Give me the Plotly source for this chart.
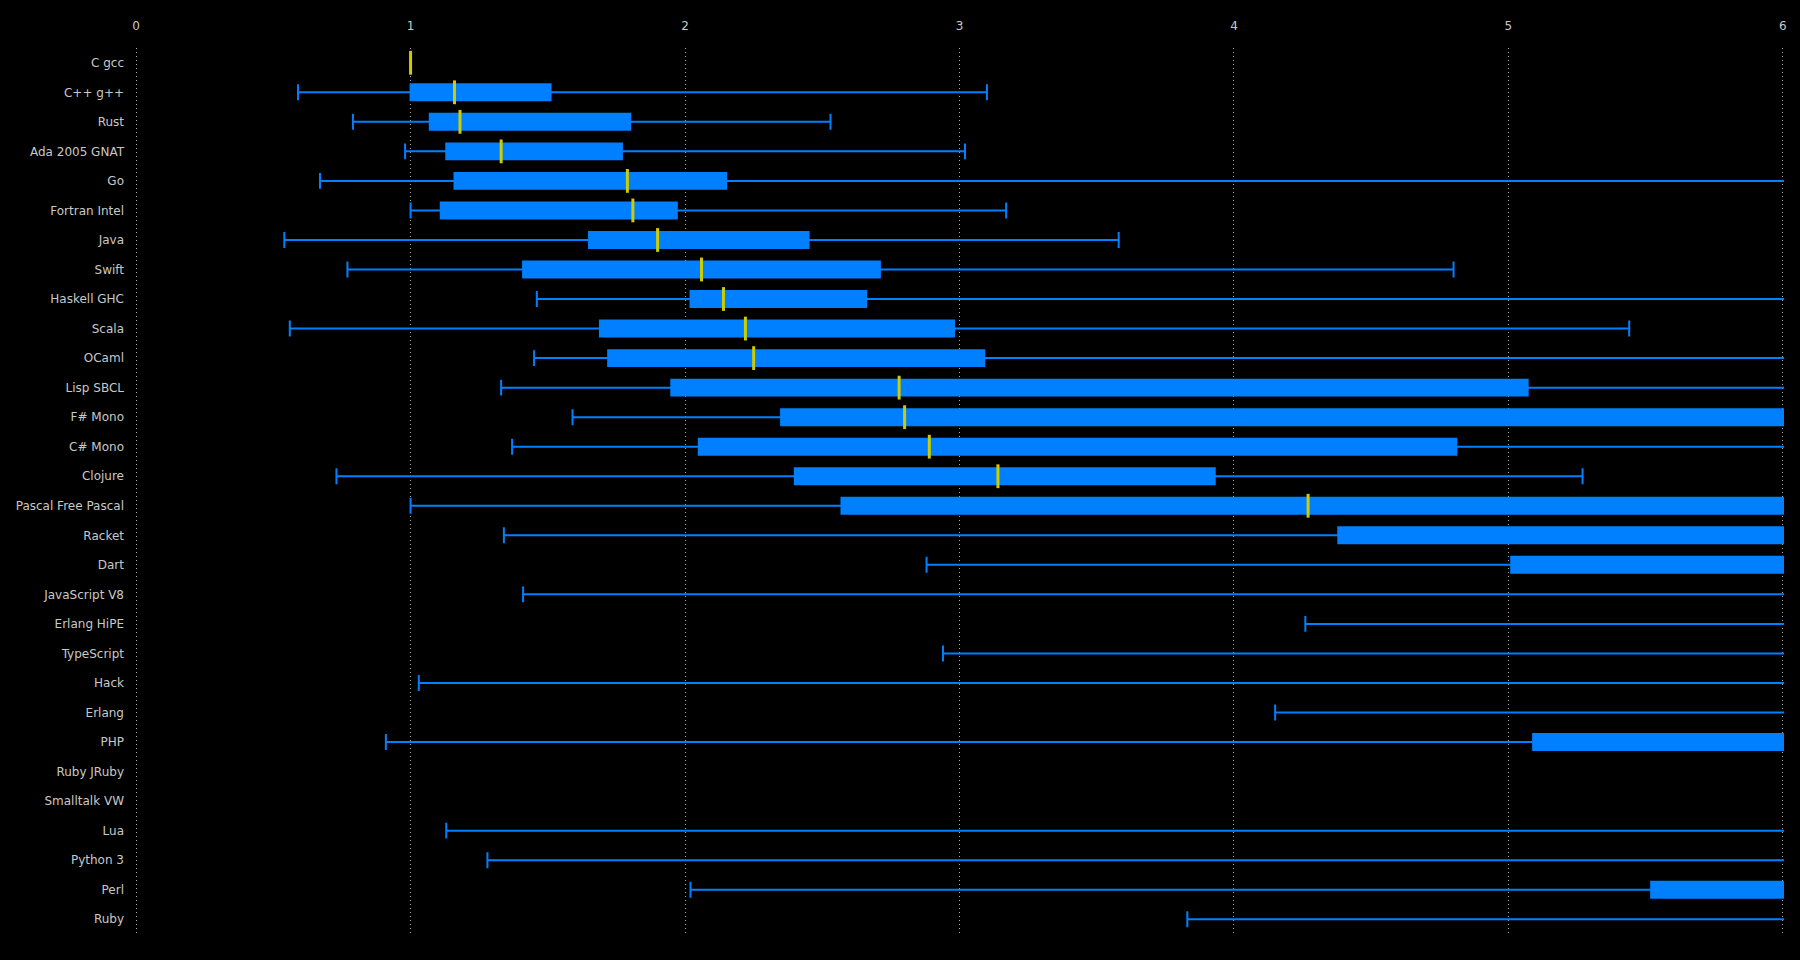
import plotly.graph_objects as go

languages = ["C gcc", "C++ g++", "Rust", "Ada 2005 GNAT", "Go", "Fortran Intel", "Java", "Swift",
             "Haskell GHC", "Scala", "OCaml", "Lisp SBCL", "F# Mono", "C# Mono", "Clojure",
             "Pascal Free Pascal", "Racket", "Dart", "JavaScript V8", "Erlang HiPE", "TypeScript",
             "Hack", "Erlang", "PHP", "Ruby JRuby", "Smalltalk VW", "Lua", "Python 3", "Perl", "Ruby"]

lower_fence = [1.0, 0.59, 0.79, 0.98, 0.67, 1.0, 0.54, 0.77, 1.46, 0.56, 1.45, 1.33, 1.59, 1.37, 0.73,
               1.0, 1.34, 2.88, 1.41, 4.26, 2.94, 1.03, 4.15, 0.91, 6.5, 7.0, 1.13, 1.28, 2.02, 3.83]
q1 = [1.0, 1.0, 1.07, 1.13, 1.16, 1.11, 1.65, 1.41, 2.02, 1.69, 1.72, 1.95, 2.35, 2.05, 2.40,
      2.57, 4.38, 5.01, 7.0, 8.0, 7.5, 8.0, 9.0, 5.09, 10.0, 12.0, 9.0, 10.0, 5.52, 12.0]
median = [1.0, 1.16, 1.18, 1.33, 1.79, 1.81, 1.90, 2.06, 2.14, 2.22, 2.25, 2.78, 2.80, 2.89, 3.14,
          4.27, 7.0, 8.0, 10.0, 11.0, 12.0, 13.0, 15.0, 16.0, 18.0, 20.0, 22.0, 25.0, 28.0, 35.0]
q3 = [1.0, 1.51, 1.80, 1.77, 2.15, 1.97, 2.45, 2.71, 2.66, 2.98, 3.09, 5.07, 6.5, 4.81, 3.93,
      6.8, 9.0, 11.0, 14.0, 15.0, 16.0, 20.0, 22.0, 25.0, 28.0, 30.0, 33.0, 38.0, 40.0, 55.0]
upper_fence = [1.0, 3.10, 2.53, 3.02, 8.0, 3.17, 3.58, 4.80, 8.5, 5.44, 9.0, 12.0, 14.0, 10.0, 5.27,
               15.0, 18.0, 20.0, 30.0, 28.0, 35.0, 40.0, 45.0, 50.0, 60.0, 70.0, 80.0, 90.0, 100.0, 120.0]

x_ticks = [0, 1, 2, 3, 4, 5, 6]

BLUE = "#0080ff"
YELLOW = "#cccc00"
TEXT = "#c8c8c8"

fig = go.Figure()
fig.add_trace(go.Box(
    y=languages, q1=q1, median=median, q3=q3,
    lowerfence=lower_fence, upperfence=upper_fence,
    orientation="h", boxpoints=False,
    fillcolor=BLUE, line=dict(color=BLUE, width=2),
    width=0.54, whiskerwidth=1, hoverinfo="skip", showlegend=False,
))
fig.add_trace(go.Scatter(
    x=median, y=languages, mode="markers",
    marker=dict(symbol="line-ns", size=17, line=dict(color=YELLOW, width=3)),
    hoverinfo="skip", showlegend=False, cliponaxis=True,
))

fig.update_layout(
    width=1800, height=960,
    paper_bgcolor="black", plot_bgcolor="black",
    margin=dict(l=135, r=16, t=48, b=26),
    font=dict(family="DejaVu Sans", size=12, color=TEXT),
    xaxis=dict(range=[-0.004, 6.004], side="top", tickvals=x_ticks, ticktext=[str(t) for t in x_ticks],
               showgrid=True, gridcolor="#aaaaaa", griddash="1px,3px", gridwidth=1,
               zeroline=False, showline=False, ticks="", ticklabelstandoff=15,
               tickfont=dict(size=12, color=TEXT)),
    yaxis=dict(range=[29.5, -0.5], type="category", showgrid=False, zeroline=False,
               showline=False, ticks="", ticklabelstandoff=10, tickfont=dict(size=12, color=TEXT)),
)

fig.write_html("out.html", config={"displayModeBar": False},
               post_script="document.body.style.margin='0';document.body.style.background='black';")
